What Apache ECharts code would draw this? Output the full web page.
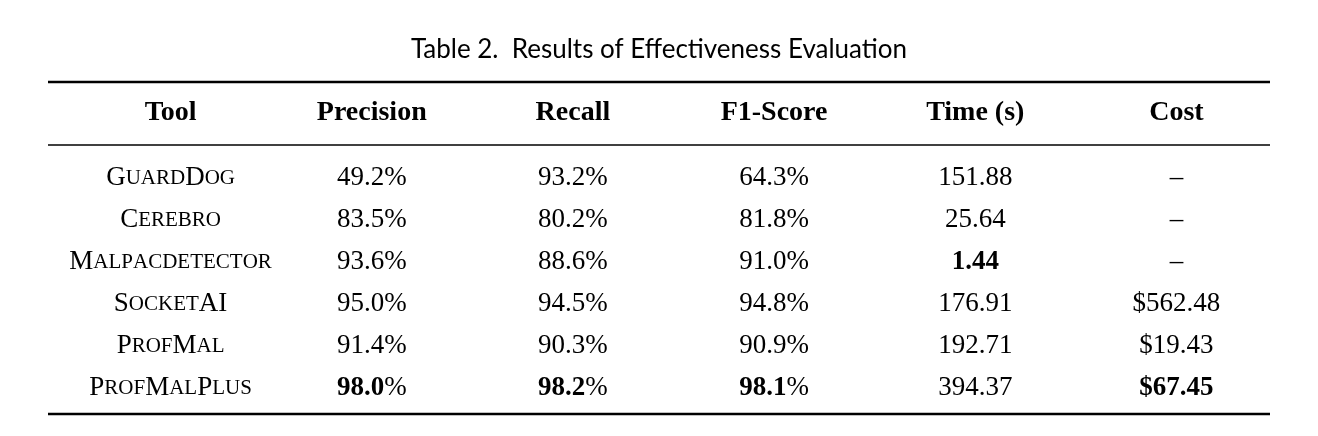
<!DOCTYPE html>
<html><head><meta charset="utf-8">
<script src="https://cdn.jsdelivr.net/npm/echarts@6/dist/echarts.min.js"></script>
<style>html,body{margin:0;background:#fff}#c{width:1318px;height:436px}</style>
</head><body><div id="c"></div>
<script>
const columns = ['Tool', 'Precision', 'Recall', 'F1-Score', 'Time (s)', 'Cost'];
const tools = ['GuardDog', 'Cerebro', 'Malpacdetector', 'SocketAI', 'ProfMal', 'ProfMalPlus'];
const precision = ['49.2%', '83.5%', '93.6%', '95.0%', '91.4%', '98.0%'];
const recall = ['93.2%', '80.2%', '88.6%', '94.5%', '90.3%', '98.2%'];
const f1 = ['64.3%', '81.8%', '91.0%', '94.8%', '90.9%', '98.1%'];
const time = ['151.88', '25.64', '1.44', '176.91', '192.71', '394.37'];
const cost = ['–', '–', '–', '$562.48', '$19.43', '$67.45'];
// best value per column (row index)
const bestRow = [null, 5, 5, 5, 2, 5];

const serif = 'Liberation Serif';
const chart = echarts.init(document.getElementById('c'));

// small caps: capitals big, lowercase shrunk & uppercased
function smallCaps(name) {
  let out = '';
  for (const ch of name) {
    if (ch >= 'A' && ch <= 'Z') out += '{c|' + ch + '}';
    else out += '{s|' + ch.toUpperCase() + '}';
  }
  return out;
}

const valueCols = [precision, recall, f1, time, cost];
const data = [];
tools.forEach((t, r) => {
  data.push({ value: [0, r], label: { formatter: smallCaps(t) } });
  valueCols.forEach((col, k) => {
    const txt = col[r];
    const bold = bestRow[k + 1] === r;
    let f;
    if (bold && txt.endsWith('%')) f = '{b|' + txt.slice(0, -1) + '}{n|%}';
    else f = bold ? '{b|' + txt + '}' : '{n|' + txt + '}';
    data.push({ value: [k + 1, r], label: { formatter: f } });
  });
});

const rich = {
  c: { fontFamily: serif, fontSize: 27, color: '#000' },
  s: { fontFamily: serif, fontSize: 21, color: '#000' },
  n: { fontFamily: serif, fontSize: 27, color: '#000' },
  b: { fontFamily: serif, fontSize: 27, fontWeight: 'bold', color: '#000' }
};

const L = 48, R = 1270;
function rule(y, w) {
  return { type: 'line', shape: { x1: L, y1: y, x2: R, y2: y }, style: { stroke: '#000', lineWidth: w } };
}

chart.setOption({
  animation: false,
  title: {
    text: 'Table 2.  Results of Effectiveness Evaluation',
    left: 'center', top: 32,
    textStyle: { fontFamily: 'Lato', fontSize: 26, fontWeight: 'normal', color: '#000' }
  },
  grid: { left: 70, right: 41, top: 157, bottom: 27 },
  xAxis: {
    type: 'category', data: columns, position: 'top',
    axisLine: { show: false }, axisTick: { show: false },
    axisLabel: { margin: 30, fontFamily: serif, fontSize: 28, fontWeight: 'bold', color: '#000' }
  },
  yAxis: { type: 'category', data: tools, inverse: true, show: false },
  graphic: [rule(82, 2.5), rule(145, 1.5), rule(414, 2.5)],
  series: [{
    type: 'scatter', symbolSize: 0, data: data,
    itemStyle: { opacity: 1 },
    label: { show: true, position: 'inside', rich: rich, color: '#000' }
  }]
});
</script></body></html>
